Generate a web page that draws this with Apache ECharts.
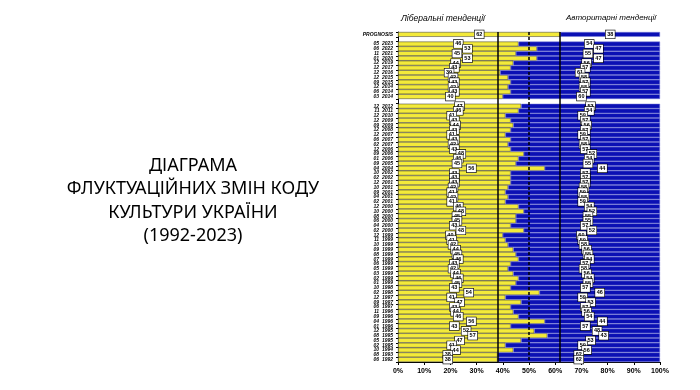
<!DOCTYPE html>
<html><head><meta charset="utf-8">
<script src="https://cdn.jsdelivr.net/npm/echarts@6/dist/echarts.min.js"></script>
<style>html,body{margin:0;padding:0;background:#fff}#c{width:700px;height:390px}</style>
</head><body><div id="c"></div>
<script>
const categories = ['PROGNOSIS','',
 '05  2023','06  2022','11  2021','01  2020','12  2019','12  2017','12  2016','12  2015','09  2015','12  2014','06  2014','03  2014','',
 '12  2012','11  2011','12  2010','12  2009','09  2009','12  2008','12  2007','06  2007','02  2007','12  2006','09  2006','01  2006','09  2005','04  2004',
 '10  2002','02  2002','12  2001','10  2001','09  2001','04  2001','02  2001','12  2000','10  2000','08  2000','06  2000','04  2000','02  2000',
 '12  1999','11  1999','10  1999','09  1999','08  1999','07  1999','06  1999','05  1999','03  1999','02  1999','01  1999',
 '10  1998','02  1998','12  1997','09  1997','06  1997','11  1996','09  1996','04  1996','01  1996','12  1995','08  1995','05  1995','02  1995',
 '10  1994','08  1993','06  1992'];
const liberal = [62,null,
 46,53,45,53,44,43,39,42,43,42,43,40,null,
 47,46,41,43,44,43,41,43,42,43,48,46,45,56,
 43,43,43,42,41,42,41,46,48,45,45,43,48,
 40,41,42,44,45,46,43,42,44,46,45,
 43,54,41,47,43,44,46,56,43,52,57,47,41,
 44,38,38];
const authoritarian = [38,null,
 54,47,55,47,56,57,61,58,57,58,57,60,null,
 53,54,59,57,56,57,59,57,58,57,52,54,55,44,
 57,57,57,58,59,58,59,54,52,55,55,57,52,
 60,59,58,56,55,54,57,58,56,54,55,
 57,46,59,53,57,56,54,44,57,48,43,53,59,
 56,62,62];
const refLines = [38.2, 50, 61.8];

const labelStyle = {
  show: true, position: 'inside', formatter: p => p.value,
  backgroundColor: '#fff', borderColor: '#000', borderWidth: 0.6,
  padding: [1, 1.5], fontSize: 5.5, fontWeight: 'bold', color: '#000',
  fontFamily: 'Liberation Sans'
};

const chart = echarts.init(document.getElementById('c'), null, {renderer: 'canvas'});
chart.setOption({
  animation: false,
  backgroundColor: '#fff',
  title: {
    text: 'ДІАГРАМА\nФЛУКТУАЦІЙНИХ ЗМІН КОДУ\nКУЛЬТУРИ УКРАЇНИ\n(1992-2023)',
    left: 188, top: 149, textAlign: 'center',
    textStyle: {fontFamily: 'Noto Sans', fontSize: 18, fontWeight: 'normal', color: '#000', lineHeight: 23.5, align: 'center'}
  },
  graphic: [
    {type: 'text', left: 401, top: 14, style: {text: 'Ліберальні тенденції', font: 'italic 8.5px "Liberation Sans"', fill: '#000'}},
    {type: 'text', left: 566, top: 14, style: {text: 'Авторитарні тенденції', font: 'italic 8px "Liberation Sans"', fill: '#000'}}
  ],
  grid: {left: 398, right: 40, top: 32, bottom: 28, containLabel: false},
  xAxis: {
    type: 'value', min: 0, max: 100, interval: 10,
    axisLabel: {formatter: '{value}%', fontSize: 7, fontWeight: 'bold', color: '#000', fontFamily: 'Liberation Sans', margin: 6},
    axisLine: {show: true, lineStyle: {color: '#000', width: 1}},
    axisTick: {show: true, length: 3, lineStyle: {color: '#000'}},
    splitLine: {show: false}
  },
  yAxis: {
    type: 'category', data: categories, inverse: true,
    axisLabel: {fontSize: 5, fontStyle: 'italic', fontWeight: 'bold', color: '#000', fontFamily: 'Liberation Sans', margin: 5, interval: 0},
    axisLine: {show: true, lineStyle: {color: '#000', width: 1}},
    axisTick: {show: true, length: 2, interval: 0, lineStyle: {color: '#000'}},
    splitLine: {show: false}
  },
  series: [
    {
      name: 'Ліберальні', type: 'bar', stack: 'a', data: liberal,
      barCategoryGap: 0, barWidth: '100%',
      itemStyle: {color: '#f3ea3a', borderColor: '#333', borderWidth: 0.5},
      label: labelStyle,
      z: 2
    },
    {
      name: 'Авторитарні', type: 'bar', stack: 'a', data: authoritarian,
      barCategoryGap: 0, barWidth: '100%',
      itemStyle: {color: '#0b10b4', borderColor: '#7a7fd8', borderWidth: 0.5},
      label: labelStyle,
      markLine: {
        silent: true, symbol: 'none', label: {show: false},
        data: refLines.map((v, i) => ({xAxis: v, lineStyle: {color: '#000', width: 1.5, type: i === 1 ? [3, 2] : 'solid'}}))
      },
      z: 2
    }
  ]
});
</script></body></html>
